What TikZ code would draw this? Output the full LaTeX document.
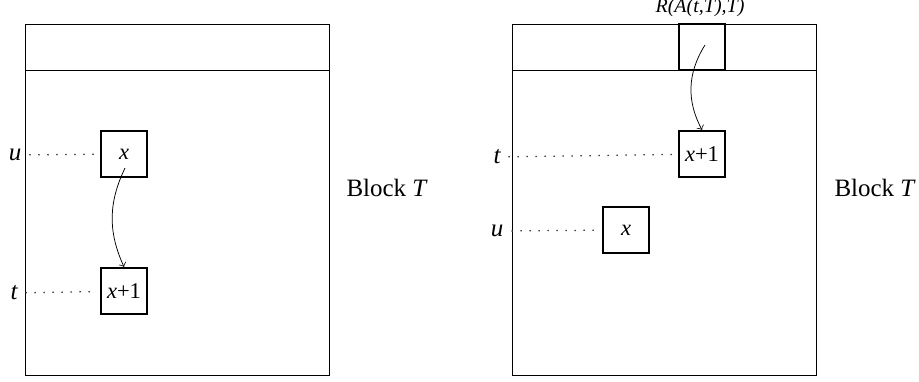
\documentclass[tikz,border=0pt]{standalone}
\usepackage{fontspec}
\setmainfont{Liberation Serif}
\begin{document}
\begin{tikzpicture}[x=0.4pt, y=-0.4pt, line width=0.4pt,
  cell/.style={draw, line width=0.9pt, minimum size=18.4pt, inner sep=0pt, font=\small},
  thin cell/.style={cell, line width=0.5pt},
  lbl/.style={inner sep=1pt, font=\itshape},
  dots/.style={draw=black!75, line width=0.5pt, dash pattern=on 0.6pt off 3pt, shorten <=2pt, shorten >=1.5pt}]%
\useasboundingbox (0,0) rectangle (919,381);
% the two blocks
\draw (25,24) rectangle (329,375);
\draw (25,70) -- (329,70);
\draw (512,24) rectangle (816,375);
\draw (512,70) -- (816,70);
\node[anchor=west, inner sep=0pt] (bl1) at (346,188) {Block \textit{T}};
\node[anchor=west, inner sep=0pt] (bl2) at (834,188) {Block \textit{T}};
\begin{scope}
\node[cell] (ux) at (124,154) {\textit{x}};
\node[cell] (tx) at (124,291) {\textit{x}+1};
\node[lbl] (u1) at (15,155) {u};
\node[lbl] (t1) at (14,293) {t};
%\node[cell] (v) at (,) {};
\end{scope}
\begin{scope}
\node[cell, minimum height=18.4pt] (hdr) at (702,47) {};
\node[cell] (tx2) at (702,154) {\textit{x}+1};
\node[thin cell] (ux2) at (626,230) {\textit{x}};
\node[lbl] (t2) at (497,157) {t};
\node[lbl] (u2) at (497,231) {u};
\node[lbl, font=\footnotesize\itshape] (rl) at (700,8) {R(A(t,T),T)};
\end{scope}
\begin{scope}
\draw[dots] (u1) -- (ux);
\draw[dots] (t1) -- (tx);
\draw[dots] (t2) -- (tx2);
\draw[dots] (u2) -- (ux2);
\draw[->, line width=0.3pt] ([shift={(1,14)}]ux.center) to[bend right=25] (tx.north);
\draw[->, line width=0.3pt] ([shift={(3,-2)}]hdr.center) to[bend right=30] (tx2.north);
\end{scope}
\end{tikzpicture}
\end{document}
